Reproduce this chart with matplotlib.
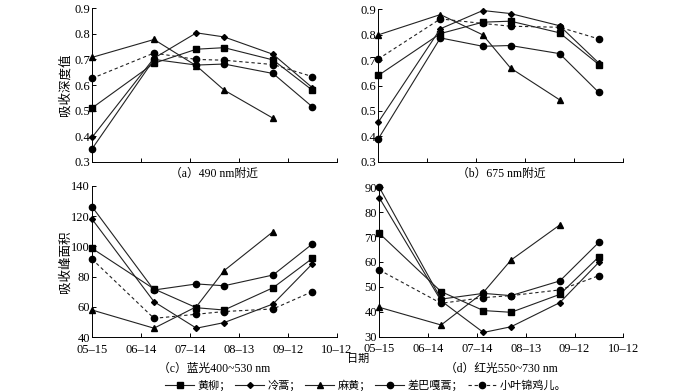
import numpy as np
import pandas as pd
import matplotlib
matplotlib.use('Agg')
import matplotlib.pyplot as plt
from matplotlib.lines import Line2D

plt.rcParams['font.family'] = ['Liberation Serif', 'Noto Sans CJK SC']
plt.rcParams['axes.unicode_minus'] = False

# 采样日期和刻度日期
dates = ['05-15', '06-22', '07-18', '08-04', '09-03', '09-27']
tick_dates = ['05-15', '06-14', '07-14', '08-13', '09-12', '10-12']
species = ['黄柳', '冷蒿', '麻黄', '差巴嘎蒿', '小叶锦鸡儿']

# (a) 490 nm附近 吸收深度值
a_huangliu = [0.51, 0.685, 0.740, 0.746, 0.698, 0.580]
a_lenghao = [0.395, 0.705, 0.804, 0.788, 0.720, 0.590]
a_mahuang = [0.708, 0.778, 0.675, 0.580, 0.470]
a_chabagahao = [0.350, 0.700, 0.678, 0.682, 0.645, 0.515]
a_xiaoye = [0.626, 0.725, 0.700, 0.697, 0.680, 0.633]

# (b) 675 nm附近
b_huangliu = [0.640, 0.805, 0.850, 0.854, 0.808, 0.683]
b_lenghao = [0.456, 0.824, 0.896, 0.884, 0.836, 0.689]
b_mahuang = [0.800, 0.880, 0.800, 0.669, 0.544]
b_chabagahao = [0.390, 0.788, 0.755, 0.758, 0.726, 0.573]
b_xiaoye = [0.705, 0.863, 0.845, 0.834, 0.830, 0.784]

# (c) 蓝光400~530 nm 吸收峰面积
c_huangliu = [98.7, 71.9, 59.5, 58.0, 72.7, 92.0]
c_lenghao = [118.0, 63.5, 46.0, 49.7, 62.0, 88.4]
c_mahuang = [58.0, 46.0, 60.2, 84.0, 109.7]
c_chabagahao = [126.2, 71.2, 75.2, 74.0, 81.1, 101.5]
c_xiaoye = [91.6, 52.5, 55.2, 57.0, 58.7, 70.1]

# (d) 红光550~730 nm
d_huangliu = [71.5, 48.1, 40.5, 39.8, 47.0, 62.1]
d_lenghao = [85.8, 44.4, 31.7, 34.0, 43.7, 59.9]
d_mahuang = [41.8, 34.7, 47.8, 60.8, 74.9]
d_chabagahao = [90.0, 45.1, 47.4, 46.5, 52.4, 67.9]
d_xiaoye = [56.8, 43.4, 45.7, 46.5, 48.8, 54.5]


def to_days(ds):
    d = pd.to_datetime(['2019-' + s for s in ds])
    return np.array((d - d[0]).days)


x = to_days(dates)
xt = to_days(tick_dates)

styles = [
    dict(marker='s', ms=4.5, ls='-'),
    dict(marker='D', ms=3, ls='-'),
    dict(marker='^', ms=4.5, ls='-'),
    dict(marker='o', ms=4.5, ls='-'),
    dict(marker='o', ms=4.5, ls=(0, (3, 2.5))),
]

panels = [
    ([a_huangliu, a_lenghao, a_mahuang, a_chabagahao, a_xiaoye], (0.3, 0.9), np.arange(0.3, 0.91, 0.1),
     '（a）490 nm附近', '吸收深度值', False, [92, 8.3, 336.7, 161.7]),
    ([b_huangliu, b_lenghao, b_mahuang, b_chabagahao, b_xiaoye], (0.3, 0.9), np.arange(0.3, 0.91, 0.1),
     '（b）675 nm附近', None, False, [378.3, 9.5, 623.3, 161.7]),
    ([c_huangliu, c_lenghao, c_mahuang, c_chabagahao, c_xiaoye], (40, 140), np.arange(40, 141, 20),
     '（c）蓝光400~530 nm', '吸收峰面积', True, [92, 185.7, 336.7, 337.3]),
    ([d_huangliu, d_lenghao, d_mahuang, d_chabagahao, d_xiaoye], (30, 90), np.arange(30, 91, 10),
     '（d）红光550~730 nm', None, True, [379.3, 187.3, 623.3, 336.7]),
]

W, H = 700, 392
fig = plt.figure(figsize=(7, 3.92), dpi=100)

for series, ylim, yticks, caption, ylabel, show_x, (l, t, r, b) in panels:
    ax = fig.add_axes([l / W, 1 - b / H, (r - l) / W, (b - t) / H])
    for vals, st in zip(series, styles):
        ax.plot(x[:len(vals)], vals, color='#222222', lw=0.8, mfc='black', mec='black',
                clip_on=False, zorder=3, **st)
    ax.set_xlim(xt[0], xt[-1])
    ax.set_ylim(*ylim)
    ax.set_xticks(xt)
    ax.set_yticks(yticks)
    if show_x:
        ax.set_xticklabels([s.replace('-', '–') for s in tick_dates])
    else:
        ax.set_xticklabels([])
    if ylim[1] < 1:
        ax.set_yticklabels(['%.1f' % v for v in yticks])
    ax.tick_params(direction='in', length=3, width=0.7, labelsize=9)
    ax.tick_params(axis='y', pad=1.5)
    ax.tick_params(axis='x', pad=4.5)
    for s in ['top', 'right']:
        ax.spines[s].set_visible(False)
    for s in ['left', 'bottom']:
        ax.spines[s].set_linewidth(0.7)
    if ylabel:
        fig.text(65 / W, 1 - (t + b) / 2 / H, ylabel, rotation=90, ha='center', va='center', fontsize=9)
    cy = b + 12 if not show_x else b + 32
    fig.text((l + r) / 2 / W, 1 - cy / H, caption, ha='center', va='center', fontsize=8.5)

fig.text(358 / W, 1 - 359 / H, '日期', ha='center', va='center', fontsize=8)

handles = [Line2D([], [], color='#222222', lw=0.8, mfc='black', mec='black', **st) for st in styles]
labels = [n + ('。' if i == len(species) - 1 else '；') for i, n in enumerate(species)]
fig.legend(handles, labels, loc='center', bbox_to_anchor=(366 / W, 1 - 385 / H), ncol=5,
           frameon=False, fontsize=8, handlelength=2.6, handletextpad=0.3, columnspacing=0.4,
           borderpad=0)

fig.savefig('out.png', dpi=100)
